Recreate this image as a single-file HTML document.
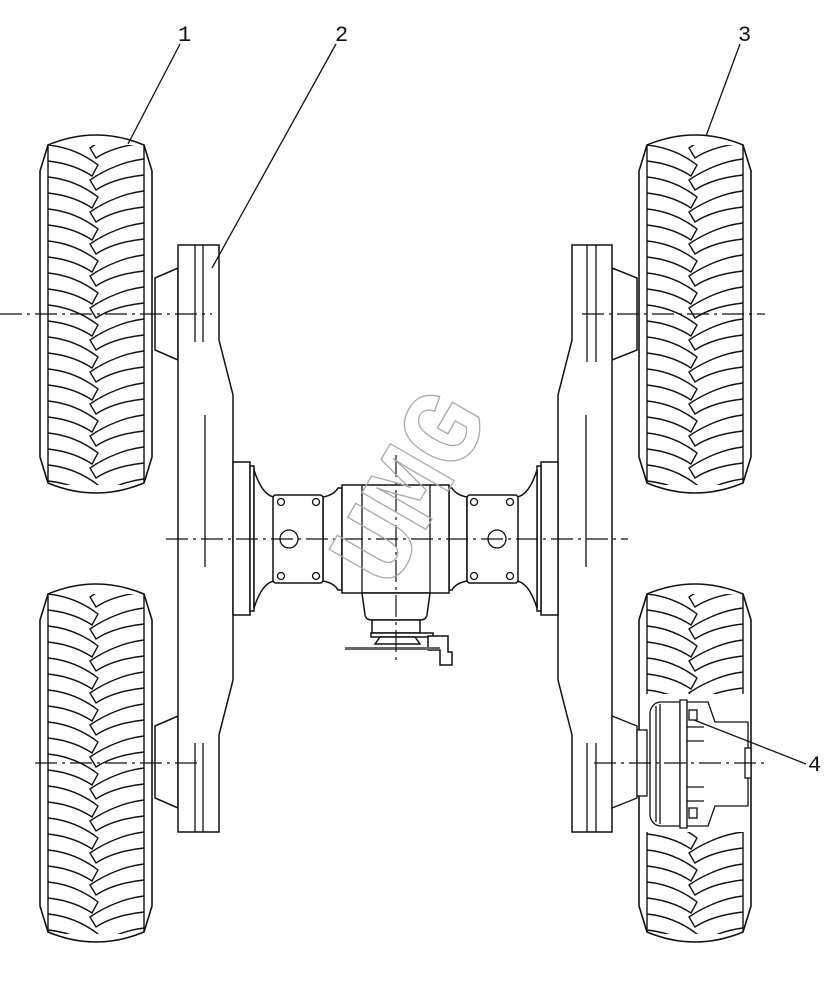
<!DOCTYPE html>
<html><head><meta charset="utf-8"><style>
html,body{margin:0;padding:0;background:#fff}
svg{display:block}
text{font-family:"Liberation Mono","DejaVu Sans Mono",monospace}
</style></head><body>
<svg width="839" height="1001" viewBox="0 0 839 1001" xmlns="http://www.w3.org/2000/svg">
<defs>
<g id="lugs" fill="none" stroke="#111" stroke-width="1.4">
  <path d="M8,0 C28,2 45,10 58,20 L52,31 C40,23 26,18 8,16"/>
  <path d="M104,14 C86,16 66,24 50,35 L56,45 C68,37 86,32 104,30"/>
</g>
<clipPath id="tc"><rect x="8" y="12" width="96" height="340"/></clipPath>
<g id="tire">
  <path d="M8,12 Q56,-8 104,12 L112,38 L112,324 L104,350 Q56,370 8,350 L0,324 L0,38 Z" fill="#fff" stroke="#111" stroke-width="1.6"/>
  <line x1="8" y1="12" x2="8" y2="350" stroke="#111" stroke-width="1.4"/>
  <line x1="104" y1="12" x2="104" y2="350" stroke="#111" stroke-width="1.4"/>
  <g clip-path="url(#tc)">
    <use href="#lugs" y="-20"/><use href="#lugs" y="12"/><use href="#lugs" y="44"/><use href="#lugs" y="76"/><use href="#lugs" y="108"/>
    <use href="#lugs" y="140"/><use href="#lugs" y="172"/><use href="#lugs" y="204"/><use href="#lugs" y="236"/>
    <use href="#lugs" y="268"/><use href="#lugs" y="300"/><use href="#lugs" y="332"/>
  </g>
</g>
</defs>

<use href="#tire" x="40" y="133"/>
<use href="#tire" x="40" y="582"/>
<use href="#tire" x="639" y="133"/>
<use href="#tire" x="639" y="582"/>

<g fill="#fff" stroke="#111" stroke-width="1.5">
<path d="M155,278 L178,268 L178,360 L155,350 Z"/>
<path d="M155,726 L178,716 L178,808 L155,798 Z"/>
<path d="M637,278 L612,268 L612,360 L637,350 Z"/>
<path d="M178,245 L219,245 L219,340 L233,395 L233,680 L219,735 L219,832 L178,832 Z"/>
<path d="M612,245 L572,245 L572,340 L558,395 L558,680 L572,735 L572,832 L612,832 Z"/>
<rect x="233" y="462" width="17" height="153"/>
<rect x="250" y="466" width="4" height="145"/>
<rect x="541" y="462" width="17" height="153"/>
<rect x="537" y="466" width="4" height="145"/>
<path d="M254,470 Q262,495 274,497 L274,581 Q262,583 254,608 Z"/>
<path d="M537,470 Q529,495 517,497 L517,581 Q529,583 537,608 Z"/>
<path d="M323,497 Q334,495 338,488 L342,488 L342,590 L338,590 Q334,583 323,581 Z"/>
<path d="M467,497 Q456,495 452,488 L449,488 L449,590 L452,590 Q456,583 467,581 Z"/>
<rect x="273" y="495" width="50" height="88" rx="3"/>
<rect x="467" y="495" width="51" height="88" rx="3"/>
<rect x="342" y="485" width="107" height="108"/>
<path d="M362,593 L365,615 Q366,620 372,620 L420,620 Q426,620 427,615 L430,593 Z"/>
<rect x="372" y="620" width="48" height="13"/>
<rect x="371" y="633" width="62" height="4"/>
<path d="M380,637 L375,644 L420,644 L415,637 Z"/>
<path d="M428,636 L448,636 L448,652 L452,652 L452,665 L440,665 L440,650 L428,650 Z"/>
</g>
<rect x="345" y="647" width="95" height="3" fill="#666"/>
<g stroke="#111" stroke-width="1.3" fill="none">
<line x1="362" y1="485" x2="362" y2="593"/><line x1="430" y1="485" x2="430" y2="593"/>
<circle cx="289" cy="539" r="9"/><circle cx="497" cy="539" r="9"/>
<circle cx="281" cy="502" r="3.5"/><circle cx="316" cy="502" r="3.5"/><circle cx="281" cy="576" r="3.5"/><circle cx="316" cy="576" r="3.5"/>
<circle cx="474" cy="502" r="3.5"/><circle cx="510" cy="502" r="3.5"/><circle cx="474" cy="576" r="3.5"/><circle cx="510" cy="576" r="3.5"/>
<line x1="195" y1="245" x2="195" y2="342"/><line x1="203" y1="245" x2="203" y2="342"/>
<line x1="195" y1="743" x2="195" y2="832"/><line x1="203" y1="743" x2="203" y2="832"/>
<line x1="205" y1="415" x2="205" y2="567"/>
<line x1="596" y1="245" x2="596" y2="362"/><line x1="587" y1="245" x2="587" y2="362"/>
<line x1="596" y1="743" x2="596" y2="832"/><line x1="587" y1="743" x2="587" y2="832"/>
<line x1="586" y1="415" x2="586" y2="567"/>
</g>

<g fill="#fff" stroke="#111" stroke-width="1.3">
<rect x="640" y="694" width="110" height="138" stroke="none"/>
<path d="M612,716 L637,726 L637,798 L612,808 Z"/>
<rect x="637" y="730" width="10" height="66"/>
<path d="M650,712 Q652,703 660,702 L680,702 L680,826 L660,826 Q652,825 650,816 Z"/>
<line x1="656" y1="706" x2="656" y2="822"/><line x1="660" y1="704" x2="660" y2="824"/>
<rect x="680" y="700" width="7" height="128"/>
<path d="M687,702 L708,702 L715,722 L748,722 L748,806 L715,806 L708,826 L687,826 Z"/>
<rect x="745" y="748" width="6" height="30"/>
<rect x="689" y="710" width="8" height="10"/><rect x="689" y="808" width="8" height="10"/>
<line x1="687" y1="727" x2="704" y2="727"/><line x1="687" y1="741" x2="704" y2="741"/><line x1="687" y1="787" x2="704" y2="787"/><line x1="687" y1="801" x2="704" y2="801"/>
</g>

<g stroke="#111" stroke-width="1.2" stroke-dasharray="22,5,3,5" fill="none">
<line x1="0" y1="314" x2="212" y2="314"/>
<line x1="35" y1="763" x2="198" y2="763"/>
<line x1="582" y1="314" x2="765" y2="314"/>
<line x1="594" y1="763" x2="765" y2="763"/>
<line x1="166" y1="539" x2="628" y2="539"/>
<line x1="396" y1="455" x2="396" y2="662"/>
</g>

<text x="0" y="0" transform="translate(440,505) rotate(-60)" text-anchor="middle" font-family="Liberation Sans,sans-serif" font-weight="bold" font-size="112" fill="none" stroke="#aaa" stroke-width="1.3">UMG</text>

<g stroke="#111" stroke-width="1.3">
<line x1="180" y1="44" x2="128" y2="144"/>
<line x1="336" y1="44" x2="212" y2="268"/>
<line x1="740" y1="44" x2="706" y2="136"/>
<line x1="806" y1="764" x2="694" y2="720"/>
</g>
<g font-size="22" fill="#111">
<text x="178" y="41">1</text>
<text x="335" y="41">2</text>
<text x="738" y="41">3</text>
<text x="808" y="771">4</text>
</g>
</svg>
</body></html>
